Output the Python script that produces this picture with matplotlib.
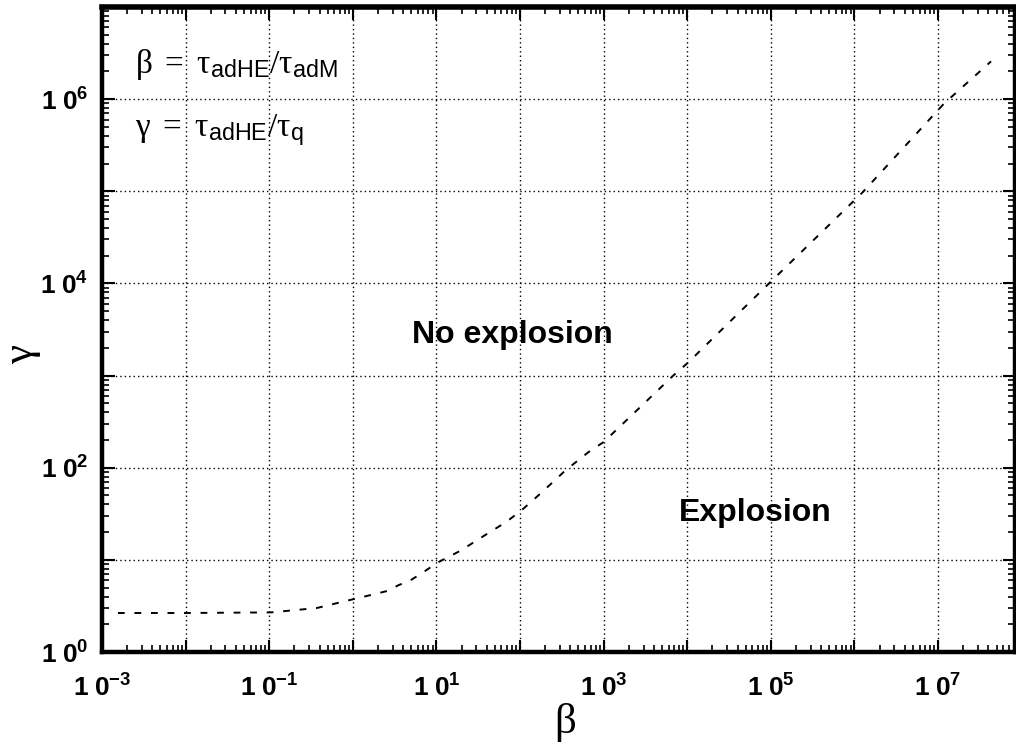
import numpy as np
import matplotlib
matplotlib.use("Agg")
import matplotlib.pyplot as plt
from matplotlib.ticker import LogLocator, FuncFormatter, NullFormatter

plt.rcParams['mathtext.fontset'] = 'custom'
plt.rcParams['mathtext.rm'] = 'Liberation Serif'
plt.rcParams['mathtext.it'] = 'Liberation Serif:italic'
plt.rcParams['mathtext.bf'] = 'Liberation Sans:bold'
plt.rcParams['mathtext.sf'] = 'Liberation Sans'
plt.rcParams['font.family'] = ['Liberation Sans', 'DejaVu Sans']

# boundary curve
beta = [1.55e-3, 1.0e-2, 0.105, 0.37, 1.05, 1.35, 2.6, 3.5, 4.9, 6.9, 10.2,
        19.5, 35.5, 68, 105, 186, 347, 660, 1000, 6800, 1.02e4, 9.5e4,
        1.26e6, 1.17e7, 4.3e7]
gamma = [2.65, 2.65, 2.69, 3.0, 3.77, 3.98, 4.6, 5.3, 6.0, 7.3, 9.3,
         12.6, 17.8, 25.7, 34.7, 55, 93, 148, 190, 1000, 1380, 1.0e4,
         9.8e4, 8.9e5, 2.57e6]

x_ticks = [1e-3, 1e-1, 1e1, 1e3, 1e5, 1e7]
y_ticks = [1e0, 1e2, 1e4, 1e6]
x_lim = (1e-3, 10**7.92)
y_lim = (1e0, 1e7)

fig = plt.figure(figsize=(10.16, 7.46), dpi=100)
ax = fig.add_axes([102/1016, 1-652/746, (1015-102)/1016, (652-7)/746])

ax.plot(beta, gamma, color='black', lw=1.4, linestyle=(0, (3.5, 5)))

ax.set_xscale('log')
ax.set_yscale('log')
ax.set_xlim(*x_lim)
ax.set_ylim(*y_lim)

ax.xaxis.set_major_locator(LogLocator(base=10, numticks=30))
ax.yaxis.set_major_locator(LogLocator(base=10, numticks=30))
ax.xaxis.set_minor_locator(LogLocator(base=10, subs=np.arange(2, 10), numticks=30))
ax.yaxis.set_minor_locator(LogLocator(base=10, subs=np.arange(2, 10), numticks=30))
ax.xaxis.set_minor_formatter(NullFormatter())
ax.yaxis.set_minor_formatter(NullFormatter())

def fmt_factory(shown):
    def f(v, pos):
        for t in shown:
            if abs(np.log10(v) - np.log10(t)) < 1e-6:
                e = int(round(np.log10(t)))
                return r'$\mathbf{1\ 0^{%d}}$' % e
        return ''
    return f

ax.xaxis.set_major_formatter(FuncFormatter(fmt_factory(x_ticks)))
ax.yaxis.set_major_formatter(FuncFormatter(fmt_factory(y_ticks)))

ax.grid(True, which='major', color='black', linestyle=(0, (1, 2.2)), lw=1.0)

ax.tick_params(which='both', direction='in', top=True, right=True, colors='black')
ax.tick_params(which='major', length=9, width=1.5, labelsize=19)
ax.tick_params(which='minor', length=5, width=1.2)
ax.tick_params(axis='x', which='major', pad=16)
ax.tick_params(axis='y', which='major', pad=10)

for s in ax.spines.values():
    s.set_linewidth(3.2)
    s.set_color('black')
ax.spines['top'].set_linewidth(4)

ax.set_xlabel('β', family='Liberation Serif', fontsize=31)
ax.xaxis.set_label_coords((565-102)/913, -(722-652)/645)
ax.xaxis.label.set_va('center')
ax.set_ylabel('γ', family='Liberation Serif', fontsize=31)
ax.yaxis.set_label_coords((22-102)/913, (652-355)/645)
ax.yaxis.label.set_va('center')

ax.text(0.449, 0.491, 'No explosion', transform=ax.transAxes, ha='center',
        va='center', fontsize=23, fontweight='bold')
ax.text(0.716, 0.2155, 'Explosion', transform=ax.transAxes, ha='center',
        va='center', fontsize=23, fontweight='bold')

ax.text(0.036, 0.898, r'$\mathrm{\beta}\ =\ \mathrm{\tau}_{\mathsf{adHE}}/\mathrm{\tau}_{\mathsf{adM}}$',
        transform=ax.transAxes, ha='left', va='baseline', fontsize=24)
ax.text(0.036, 0.80, r'$\mathrm{\gamma}\ =\ \mathrm{\tau}_{\mathsf{adHE}}/\mathrm{\tau}_{\mathsf{q}}$',
        transform=ax.transAxes, ha='left', va='baseline', fontsize=24)

fig.savefig('out.png', dpi=100)
